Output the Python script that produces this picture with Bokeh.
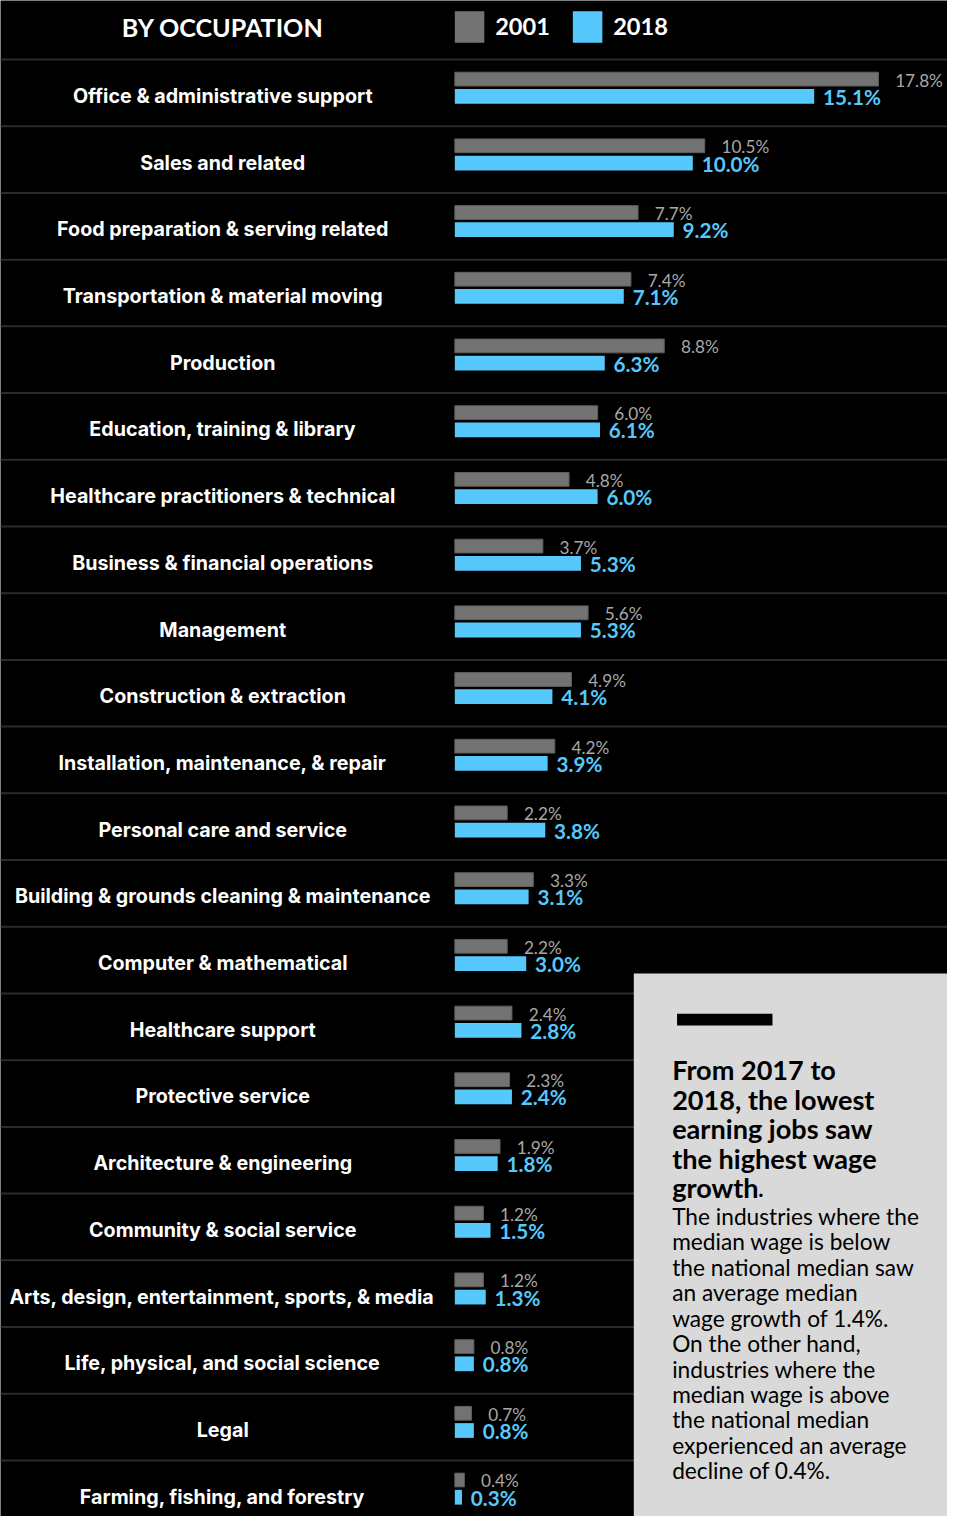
from bokeh.plotting import figure
from bokeh.models import Range1d, ColumnDataSource
from bokeh.transform import dodge
from bokeh.core.properties import value
from bokeh.embed import file_html
from bokeh.resources import INLINE

# ---------------- data ----------------
occupations = [
    "Office & administrative support", "Sales and related",
    "Food preparation & serving related", "Transportation & material moving",
    "Production", "Education, training & library",
    "Healthcare practitioners & technical", "Business & financial operations",
    "Management", "Construction & extraction",
    "Installation, maintenance, & repair", "Personal care and service",
    "Building & grounds cleaning & maintenance", "Computer & mathematical",
    "Healthcare support", "Protective service", "Architecture & engineering",
    "Community & social service", "Arts, design, entertainment, sports, & media",
    "Life, physical, and social science", "Legal", "Farming, fishing, and forestry",
]
share_2001 = [17.8, 10.5, 7.7, 7.4, 8.8, 6.0, 4.8, 3.7, 5.6, 4.9, 4.2,
              2.2, 3.3, 2.2, 2.4, 2.3, 1.9, 1.2, 1.2, 0.8, 0.7, 0.4]
share_2018 = [15.1, 10.0, 9.2, 7.1, 6.3, 6.1, 6.0, 5.3, 5.3, 4.1, 3.9,
              3.8, 3.1, 3.0, 2.8, 2.4, 1.8, 1.5, 1.3, 0.8, 0.8, 0.3]
legend_labels = ["2001", "2018"]
header_title = "BY OCCUPATION"
note_title = ["From 2017 to", "2018, the lowest", "earning jobs saw",
              "the highest wage", "growth"]
note_body = ["The industries where the", "median wage is below",
             "the national median saw", "an average median",
             "wage growth of 1.4%.", "On the other hand,",
             "industries where the", "median wage is above",
             "the national median", "experienced an average",
             "decline of 0.4%."]

# ---------------- layout constants (reference pixels) ----------------
W, H = 947, 1516
REF_W, REF_H = 963, 1541
K = 24.2        # px per percent
ROW = 67.81     # px per row
X0 = 462.0      # px of 0%
Y0 = 93.9       # px center of first row
FS = 0.985      # font scale

def dx(px):
    return (px - X0) / K

def dy(px):
    return (px - Y0) / ROW

def fpx(s):
    return f"{s * FS:.1f}px"

GRAY = "#737373"
BLUE = "#56c8fc"
GRAY_TXT = "#a8a8a8"
SEP = "#2b2b2b"
FONT = "Lato"
LABEL_FONT = "Inter"

n = len(occupations)
src = ColumnDataSource(dict(
    row=list(range(n)),
    occ=occupations,
    v01=share_2001,
    v18=share_2018,
    l01=[f"{v:.1f}%" for v in share_2001],
    l18=[f"{v:.1f}%" for v in share_2018],
    x01=[v + 17 / K for v in share_2001],
    x18=[v + 9 / K for v in share_2018],
))

p = figure(width=W, height=H, output_backend="svg", toolbar_location=None,
           x_range=Range1d(dx(0), dx(REF_W)), y_range=Range1d(dy(REF_H), dy(0)),
           min_border=0, background_fill_color="black", border_fill_color="black")
p.axis.visible = False
p.grid.visible = False
p.outline_line_color = None

# separators
seps = [i - 0.5 for i in range(n)]
p.segment(x0=dx(0), x1=dx(REF_W), y0=seps, y1=seps, line_color=SEP, line_width=2)

# bars
p.hbar(y=dodge("row", -14 / ROW, range=p.y_range), height=14 / ROW, left=0, right="v01",
       source=src, fill_color=GRAY, line_color="#5e5e5e", line_width=1)
p.hbar(y=dodge("row", 3.5 / ROW, range=p.y_range), height=15 / ROW, left=0, right="v18",
       source=src, fill_color=BLUE, line_color=BLUE, line_width=0)

# value labels
p.text(x="x01", y=dodge("row", -13 / ROW, range=p.y_range), text="l01", source=src,
       text_font=value(FONT), text_font_size=fpx(17.5), text_color=GRAY_TXT,
       text_baseline="middle", text_align="left")
p.text(x="x18", y=dodge("row", 4 / ROW, range=p.y_range), text="l18", source=src,
       text_font=value(FONT), text_font_size=fpx(21), text_font_style="bold",
       text_color=BLUE, text_baseline="middle", text_align="left")

# category labels
p.text(x=dx(226), y=dodge("row", 3 / ROW, range=p.y_range), text="occ", source=src,
       text_font=value(LABEL_FONT), text_font_size=fpx(20), text_font_style="bold",
       text_color="white", text_baseline="middle", text_align="center")

# header
p.text(x=[dx(226)], y=[dy(27)], text=[header_title], text_font=value(FONT),
       text_font_size=fpx(25.5), text_font_style="bold", text_color="white",
       text_baseline="middle", text_align="center")
p.quad(left=[dx(462), dx(582)], right=[dx(492), dx(612)], top=[dy(11), dy(11)],
       bottom=[dy(43), dy(43)], fill_color=[GRAY, BLUE], line_color=None)
p.text(x=[dx(503), dx(623)], y=[dy(26), dy(26)], text=legend_labels,
       text_font=value(FONT), text_font_size=fpx(24), text_font_style="bold",
       text_color="white", text_baseline="middle", text_align="left")

# note box
p.quad(left=[dx(644)], right=[dx(REF_W + 5)], top=[dy(989)], bottom=[dy(REF_H + 5)],
       fill_color="#d9d9d9", line_color=None)
p.quad(left=[dx(688)], right=[dx(785)], top=[dy(1030)], bottom=[dy(1042)],
       fill_color="black", line_color=None)
p.text(x=[dx(683)] * len(note_title), y=[dy(1087 + 30 * i) for i in range(len(note_title))],
       text=note_title, text_font=value(FONT), text_font_size=fpx(27.5),
       text_font_style="bold", text_color="black", text_baseline="middle", text_align="left")
p.text(x=[dx(770)], y=[dy(1207)], text=["."], text_font=value(FONT), text_font_size=fpx(27),
       text_color="black", text_baseline="middle", text_align="left")
p.text(x=[dx(683)] * len(note_body), y=[dy(1236 + 25.85 * i) for i in range(len(note_body))],
       text=note_body, text_font=value(FONT), text_font_size=fpx(23),
       text_color="black", text_baseline="middle", text_align="left")

open("out.html", "w").write(file_html(p, INLINE))
